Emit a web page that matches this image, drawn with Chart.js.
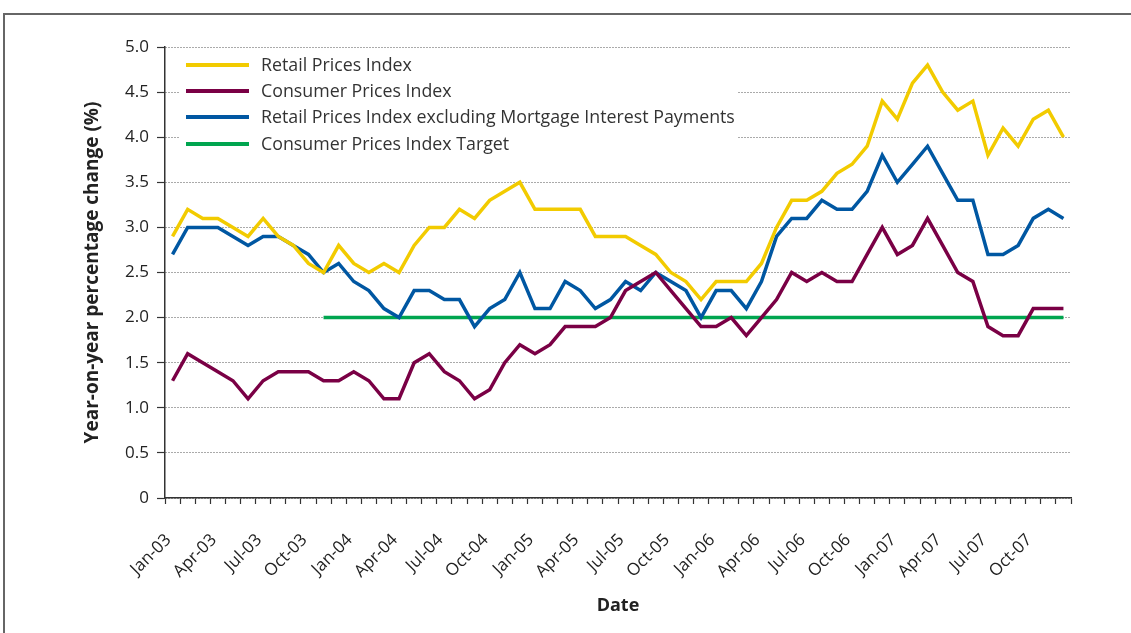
<!DOCTYPE html>
<html>
<head>
<meta charset="utf-8">
<script src="https://cdn.jsdelivr.net/npm/chart.js@4.4.1/dist/chart.umd.min.js"></script>
<style>
html,body{margin:0;padding:0;background:#fff;}
#wrap{position:relative;width:1131px;height:633px;}
</style>
</head>
<body>
<div id="wrap"><canvas id="c" width="1131" height="633"></canvas></div>
<script>
const categories = [
 'Jan-03','Feb-03','Mar-03','Apr-03','May-03','Jun-03','Jul-03','Aug-03','Sep-03','Oct-03','Nov-03','Dec-03',
 'Jan-04','Feb-04','Mar-04','Apr-04','May-04','Jun-04','Jul-04','Aug-04','Sep-04','Oct-04','Nov-04','Dec-04',
 'Jan-05','Feb-05','Mar-05','Apr-05','May-05','Jun-05','Jul-05','Aug-05','Sep-05','Oct-05','Nov-05','Dec-05',
 'Jan-06','Feb-06','Mar-06','Apr-06','May-06','Jun-06','Jul-06','Aug-06','Sep-06','Oct-06','Nov-06','Dec-06',
 'Jan-07','Feb-07','Mar-07','Apr-07','May-07','Jun-07','Jul-07','Aug-07','Sep-07','Oct-07','Nov-07','Dec-07'
];
const rpi = [
 2.9,3.2,3.1,3.1,3.0,2.9,3.1,2.9,2.8,2.6,2.5,2.8,
 2.6,2.5,2.6,2.5,2.8,3.0,3.0,3.2,3.1,3.3,3.4,3.5,
 3.2,3.2,3.2,3.2,2.9,2.9,2.9,2.8,2.7,2.5,2.4,2.2,
 2.4,2.4,2.4,2.6,3.0,3.3,3.3,3.4,3.6,3.7,3.9,4.4,
 4.2,4.6,4.8,4.5,4.3,4.4,3.8,4.1,3.9,4.2,4.3,4.0
];
const cpi = [
 1.3,1.6,1.5,1.4,1.3,1.1,1.3,1.4,1.4,1.4,1.3,1.3,
 1.4,1.3,1.1,1.1,1.5,1.6,1.4,1.3,1.1,1.2,1.5,1.7,
 1.6,1.7,1.9,1.9,1.9,2.0,2.3,2.4,2.5,2.3,2.1,1.9,
 1.9,2.0,1.8,2.0,2.2,2.5,2.4,2.5,2.4,2.4,2.7,3.0,
 2.7,2.8,3.1,2.8,2.5,2.4,1.9,1.8,1.8,2.1,2.1,2.1
];
const rpix = [
 2.7,3.0,3.0,3.0,2.9,2.8,2.9,2.9,2.8,2.7,2.5,2.6,
 2.4,2.3,2.1,2.0,2.3,2.3,2.2,2.2,1.9,2.1,2.2,2.5,
 2.1,2.1,2.4,2.3,2.1,2.2,2.4,2.3,2.5,2.4,2.3,2.0,
 2.3,2.3,2.1,2.4,2.9,3.1,3.1,3.3,3.2,3.2,3.4,3.8,
 3.5,3.7,3.9,3.6,3.3,3.3,2.7,2.7,2.8,3.1,3.2,3.1
];
const cpiTarget = [
 null,null,null,null,null,null,null,null,null,null,2.0,2.0,
 2.0,2.0,2.0,2.0,2.0,2.0,2.0,2.0,2.0,2.0,2.0,2.0,
 2.0,2.0,2.0,2.0,2.0,2.0,2.0,2.0,2.0,2.0,2.0,2.0,
 2.0,2.0,2.0,2.0,2.0,2.0,2.0,2.0,2.0,2.0,2.0,2.0,
 2.0,2.0,2.0,2.0,2.0,2.0,2.0,2.0,2.0,2.0,2.0,2.0
];
const seriesNames = [
 'Retail Prices Index',
 'Consumer Prices Index',
 'Retail Prices Index excluding Mortgage Interest Payments',
 'Consumer Prices Index Target'
];
const yTicks = [0,0.5,1.0,1.5,2.0,2.5,3.0,3.5,4.0,4.5,5.0];
const colors = ['#F2CB00','#7A0045','#0057A2','#00A54F'];

const FONT = "'Open Sans', 'DejaVu Sans', sans-serif";

const frameAndLegend = {
  id: 'frameAndLegend',
  beforeDatasetsDraw(chart) {
    const ctx = chart.ctx;
    ctx.save();
    ctx.fillStyle = '#fff';
    ctx.fillRect(180, 52, 558, 108);
    const rows = [65, 91, 117, 144];
    chart.data.datasets.forEach((ds, i) => {
      const y = rows[i];
      ctx.strokeStyle = ds.borderColor;
      ctx.lineWidth = 4;
      ctx.beginPath();
      ctx.moveTo(186, y);
      ctx.lineTo(249, y);
      ctx.stroke();
      ctx.fillStyle = '#333';
      ctx.font = "17.8px " + FONT;
      ctx.textBaseline = 'middle';
      ctx.textAlign = 'left';
      ctx.fillText(ds.label, 261, y + 1);
    });
    ctx.restore();
  },
  afterDraw(chart) {
    const ctx = chart.ctx;
    ctx.save();
    ctx.strokeStyle = '#666';
    ctx.lineWidth = 2;
    ctx.beginPath();
    ctx.moveTo(4, 633);
    ctx.lineTo(4, 14);
    ctx.lineTo(1131, 14);
    ctx.stroke();
    ctx.restore();
  }
};

const datasets = [rpi, cpi, rpix, cpiTarget].map((d, i) => ({
  label: seriesNames[i],
  data: d,
  borderColor: colors[i],
  backgroundColor: colors[i],
  borderWidth: 3.5,
  pointRadius: 0,
  pointHoverRadius: 0,
  tension: 0,
  fill: false,
  spanGaps: false
}));

new Chart(document.getElementById('c'), {
  type: 'line',
  data: { labels: categories, datasets },
  plugins: [frameAndLegend],
  options: {
    responsive: false,
    animation: false,
    events: [],
    layout: { padding: { left: 77, right: 60, top: 47, bottom: 12 } },
    plugins: { legend: { display: false }, tooltip: { enabled: false } },
    scales: {
      x: {
        type: 'category',
        offset: true,
        afterFit(s) { s.height = 123; },
        grid: { display: true, drawOnChartArea: false, drawTicks: true, offset: true,
                tickLength: 6, tickColor: '#333', tickWidth: 1.2 },
        border: { display: true, color: '#333', width: 1.5 },
        ticks: {
          autoSkip: false, maxRotation: 45, minRotation: 45, padding: 26, labelOffset: -4,
          color: '#222',
          font: { family: FONT, size: 17 },
          callback(val, idx) { return idx % 3 === 0 ? categories[idx] : ''; }
        },
        title: { display: true, text: 'Date', color: '#222',
                 font: { family: FONT, size: 18, weight: 'bold' } }
      },
      y: {
        min: 0, max: 5,
        afterFit(s) { s.width = 88; },
        afterBuildTicks(s) { s.ticks = yTicks.map(v => ({ value: v })); },
        grid: { display: true, drawOnChartArea: true, drawTicks: true, color: '#555', lineWidth: 1,
                tickLength: 8, tickColor: '#333', tickWidth: 1.2, tickBorderDash: [] },
        border: { display: true, color: '#333', width: 1.5, dash: [1, 2] },
        ticks: {
          padding: 8, color: '#222',
          font: { family: FONT, size: 17 },
          callback(v) { return v === 0 ? '0' : Number(v).toFixed(1); }
        },
        title: { display: true, text: 'Year-on-year percentage change (%)', color: '#222',
                 font: { family: FONT, size: 19, weight: 'bold' } }
      }
    }
  }
});
</script>
</body>
</html>
